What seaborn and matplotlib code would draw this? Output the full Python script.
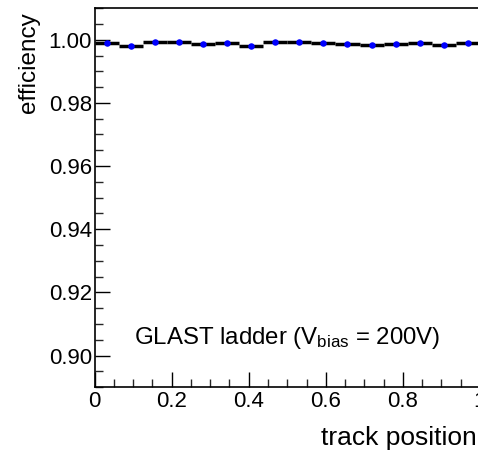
import matplotlib
matplotlib.use("Agg")
import matplotlib.pyplot as plt
import numpy as np
import pandas as pd
import seaborn as sns
from matplotlib.ticker import MultipleLocator

# 16 bins across the ladder, efficiency per bin
bin_edges = np.linspace(0.0, 1.0, 17)
efficiency = [0.9991, 0.9980, 0.9992, 0.9992, 0.9986, 0.9989, 0.9981, 0.9993,
              0.9993, 0.9991, 0.9986, 0.9984, 0.9986, 0.9989, 0.9982, 0.9990]
x_ticks = [0, 0.2, 0.4, 0.6, 0.8, 1.0]
x_tick_labels = ["0", "0.2", "0.4", "0.6", "0.8", "1"]
y_ticks = [0.90, 0.92, 0.94, 0.96, 0.98, 1.00]
y_tick_labels = ["0.90", "0.92", "0.94", "0.96", "0.98", "1.00"]

centers = 0.5 * (bin_edges[:-1] + bin_edges[1:])
half_width = 0.5 * np.diff(bin_edges)
df = pd.DataFrame({"position": centers, "efficiency": efficiency, "xerr": half_width})

sns.set_theme(style="ticks")
plt.rcParams["font.family"] = ["Liberation Sans", "DejaVu Sans"]
plt.rcParams["mathtext.fontset"] = "custom"
plt.rcParams["mathtext.rm"] = "Liberation Sans"
plt.rcParams["mathtext.it"] = "Liberation Sans:italic"
plt.rcParams["text.color"] = "black"
plt.rcParams["axes.labelcolor"] = "black"

fig = plt.figure(figsize=(4.78, 4.51), dpi=100)
ax = fig.add_axes([0.198, 0.1415, 0.806, 0.8405])

ax.errorbar(df["position"], df["efficiency"], xerr=df["xerr"], fmt="none",
            ecolor="black", elinewidth=2.5, capsize=0, zorder=2)
sns.scatterplot(data=df, x="position", y="efficiency", ax=ax, color="#0000ff",
                s=22, linewidth=0, zorder=3, legend=False)

ax.set_xlim(0, 1)
ax.set_ylim(0.89, 1.01)
ax.set_xticks(x_ticks)
ax.set_xticklabels(x_tick_labels)
ax.set_yticks(y_ticks)
ax.set_yticklabels(y_tick_labels)
ax.xaxis.set_minor_locator(MultipleLocator(0.05))
ax.yaxis.set_minor_locator(MultipleLocator(0.005))
ax.tick_params(which="major", direction="in", length=11, width=1, labelsize=16,
               top=False, right=False, color="black", labelcolor="black")
ax.tick_params(axis="x", which="major", pad=3)
ax.tick_params(axis="y", which="major", pad=2)
ax.tick_params(which="minor", direction="in", length=6, width=1, top=False, right=False)

for side in ["left", "bottom", "top", "right"]:
    ax.spines[side].set_linewidth(1.2)
    ax.spines[side].set_color("black")

ax.set_xlabel("track position", fontsize=19, ha="right")
ax.xaxis.set_label_coords(0.992, -0.102)
ax.set_ylabel("efficiency", fontsize=17.5, ha="right")
ax.yaxis.set_label_coords(-0.142, 0.99)

ax.text(0.5, 0.9057, r"GLAST ladder (V$_{\mathrm{bias}}$ = 200V)", fontsize=17.3,
        ha="center", va="center")

fig.savefig("out.png", dpi=100)
